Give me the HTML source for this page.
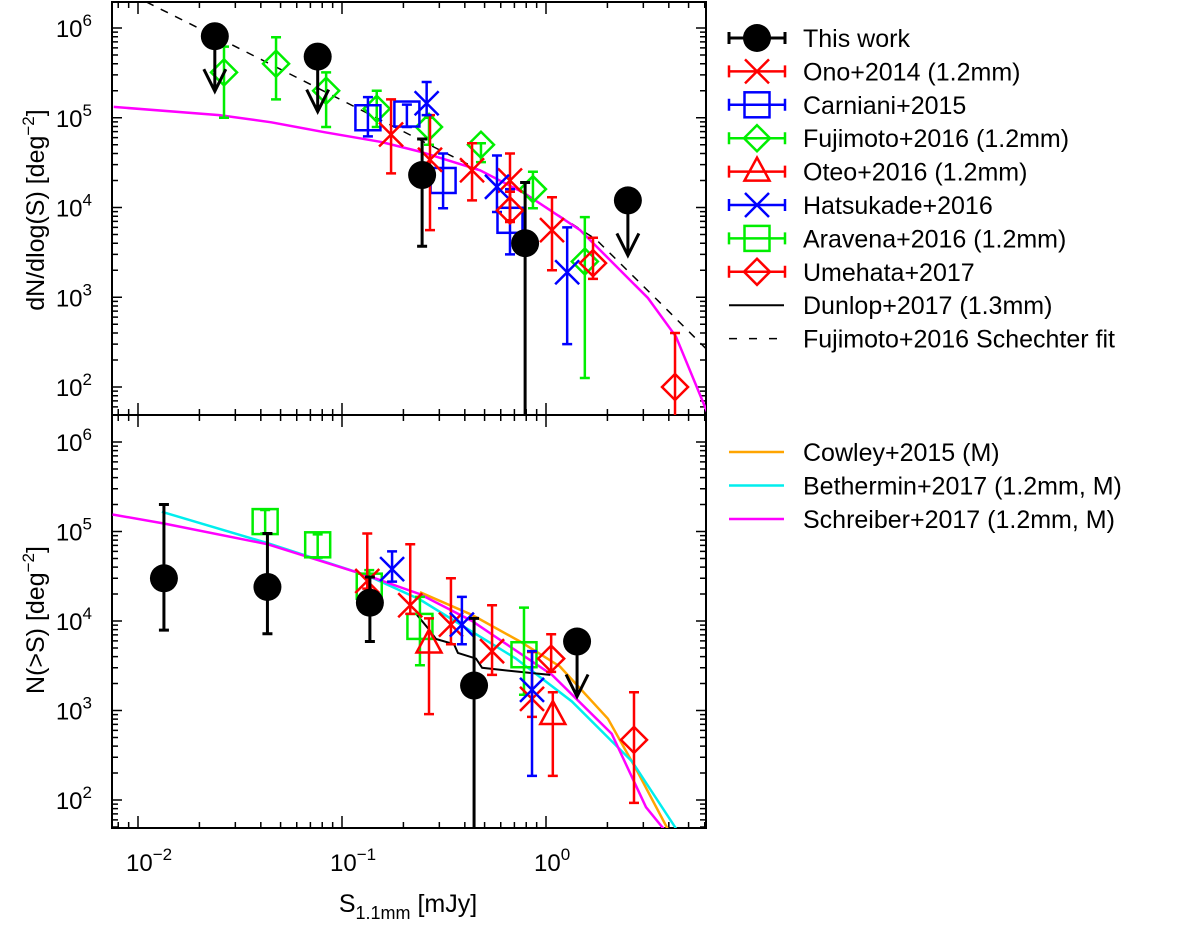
<!DOCTYPE html>
<html><head><meta charset="utf-8">
<style>
html,body{margin:0;padding:0;background:#fff;width:1200px;height:927px;overflow:hidden;}
svg{display:block;font-family:"Liberation Sans",Arial,sans-serif;}
</style></head>
<body>
<svg id="chart" width="1200" height="927" viewBox="0 0 1200 927" xmlns="http://www.w3.org/2000/svg"></svg>
<script>
// ---------- DATA ----------
const thisWorkTopS   = [0.0238, 0.076, 0.247, 0.79, 2.52];
const thisWorkTopY   = [8.1e5, 4.8e5, 2.3e4, 4.0e3, 1.2e4];
const thisWorkTopHi  = [null, null, 5.8e4, 1.9e4, null];
const thisWorkTopLo  = [null, null, 3.7e3, 30, null];
const thisWorkTopLim = [true, true, false, false, true];

const onoTopS  = [0.174, 0.27, 0.434, 0.666, 1.07];
const onoTopY  = [6.5e4, 3.4e4, 2.6e4, 2.0e4, 5.6e3];
const onoTopHi = [1.6e5, 1.07e5, 5.2e4, 4.0e4, 1.3e4];
const onoTopLo = [2.4e4, 5.6e3, 1.2e4, 7.2e3, 2.0e3];

const carnTopS  = [0.134, 0.208, 0.313, 0.666];
const carnTopY  = [1.0e5, 1.1e5, 2.0e4, 7.2e3];
const carnTopHi = [1.7e5, 1.4e5, 4.0e4, 1.6e4];
const carnTopLo = [6.2e4, 7.9e4, 9.8e3, 3.0e3];

const fujiTopS  = [0.0264, 0.0475, 0.0836, 0.148, 0.267, 0.48, 0.863, 1.55];
const fujiTopY  = [3.2e5, 4.0e5, 2.0e5, 1.26e5, 7.9e4, 5.0e4, 1.6e4, 2.5e3];
const fujiTopHi = [6.2e5, 7.9e5, 3.2e5, 2.0e5, 1.0e5, 5.2e4, 2.5e4, 7.8e3];
const fujiTopLo = [1.0e5, 1.6e5, 7.9e4, 7.9e4, 5.0e4, 3.2e4, 9.8e3, 126];

const umeTopS  = [0.666, 1.70, 4.29];
const umeTopY  = [9.3e3, 2.4e3, 100];
const umeTopHi = [1.5e4, 4.6e3, 400];
const umeTopLo = [6.9e3, 1.6e3, 30];

const hatsTopS  = [0.26, 0.575, 1.27];
const hatsTopY  = [1.45e5, 1.7e4, 1.9e3];
const hatsTopHi = [2.5e5, 3.8e4, 6.0e3];
const hatsTopLo = [1.07e5, 8.9e3, 300];

const schechterS = [0.011, 0.0289, 0.098, 0.30, 0.746, 1.76, 3.62, 6.5];
const schechterY = [1.95e6, 6.5e5, 1.6e5, 4.4e4, 1.55e4, 4.4e3, 870, 230];

const schreiTopS = [0.0076, 0.025, 0.045, 0.082, 0.154, 0.241, 0.475, 0.78, 1.47, 3.16, 4.34, 6.2];
const schreiTopY = [1.32e5, 1.07e5, 8.9e4, 6.9e4, 5.4e4, 4.2e4, 2.6e4, 1.45e4, 5.6e3, 980, 363, 51];

const thisWorkBotS   = [0.0134, 0.0431, 0.137, 0.444, 1.42];
const thisWorkBotY   = [3.0e4, 2.4e4, 1.6e4, 1.9e3, 5.9e3];
const thisWorkBotHi  = [2.0e5, 9.5e4, 3.1e4, 1.07e4, null];
const thisWorkBotLo  = [7.9e3, 7.2e3, 5.9e3, 30, null];
const thisWorkBotLim = [false, false, false, false, true];

const aravS  = [0.042, 0.076, 0.136, 0.241, 0.78];
const aravY  = [1.29e5, 7.1e4, 2.45e4, 8.7e3, 4.2e3];
const aravHi = [1.74e5, 9.3e4, 3.7e4, 1.86e4, 1.41e4];
const aravLo = [9.5e4, 5.1e4, 1.78e4, 3.2e3, 1.5e3];

const onoBotS  = [0.133, 0.216, 0.342, 0.544, 0.854];
const onoBotY  = [2.8e4, 1.5e4, 9.1e3, 4.6e3, 1.35e3];
const onoBotHi = [9.5e4, 7.2e4, 3.0e4, 1.5e4, 4.5e3];
const onoBotLo = [2.3e4, 1.2e4, 5.5e3, 2.5e3, 850];

const oteoS  = [0.267, 1.08];
const oteoY  = [5.6e3, 890];
const oteoHi = [1.07e4, 1.6e3];
const oteoLo = [910, 186];

const hatsBotS  = [0.176, 0.387, 0.854];
const hatsBotY  = [3.8e4, 9.1e3, 1.7e3];
const hatsBotHi = [6.0e4, 1.86e4, 4.6e3];
const hatsBotLo = [2.75e4, 5.5e3, 186];

const umeBotS  = [1.06, 2.70];
const umeBotY  = [3.8e3, 470];
const umeBotHi = [7.1e3, 1.6e3];
const umeBotLo = [2.7e3, 93];

const dunlopS = [0.233, 0.264, 0.289, 0.354, 0.37, 0.454, 0.486, 0.746, 1.05];
const dunlopY = [1.17e4, 8.3e3, 6.3e3, 5.5e3, 4.4e3, 3.8e3, 3.0e3, 2.7e3, 2.5e3];

const schreiBotS = [0.0075, 0.0134, 0.0433, 0.134, 0.241, 0.434, 1.07, 2.10, 3.09, 3.79];
const schreiBotY = [1.55e5, 1.23e5, 7.2e4, 3.2e4, 2.0e4, 1.0e4, 2.5e3, 550, 83, 47];

const bethS = [0.0131, 0.0433, 0.134, 0.241, 0.434, 0.713, 1.34, 2.64, 4.34];
const bethY = [1.66e5, 7.4e4, 3.2e4, 1.74e4, 7.6e3, 3.8e3, 1.26e3, 270, 48];

const cowleyS = [0.241, 0.434, 0.746, 1.17, 2.01, 2.76, 3.96];
const cowleyY = [2.1e4, 1.17e4, 5.9e3, 3.1e3, 810, 224, 47];

const topYTicks = [2, 3, 4, 5, 6];
const botYTicks = [2, 3, 4, 5, 6];
const xTicks = [-2, -1, 0];

// ---------- LAYOUT ----------
const X0 = 112, X1 = 706;
const TOP0 = 2, TOP1 = 415, BOT0 = 415, BOT1 = 828;
const svg = document.getElementById('chart');
const NS = 'http://www.w3.org/2000/svg';
function xs(s){ return 546 + 204*Math.log10(s); }
function ysTop(v){ return 28 + 89.75*(6 - Math.log10(v)); }
function ysBot(v){ return 442 + 89.5*(6 - Math.log10(v)); }
function mk(tag, attrs, parent){
  const e = document.createElementNS(NS, tag);
  for (const k in attrs) e.setAttribute(k, attrs[k]);
  (parent||svg).appendChild(e);
  return e;
}
function clipFor(id, y0, y1){
  const cp = mk('clipPath', {id:id});
  mk('rect', {x:X0, y:y0, width:X1-X0, height:y1-y0}, cp);
}
clipFor('cTop', TOP0, TOP1); clipFor('cBot', BOT0, BOT1);

function groupEl(name, clip){
  const g = mk('g', {'clip-path':'url(#'+clip+')'});
  
  
  return g;
}

function drawMarker(g, type, cx, cy, color){
  const sw = 2.5;
  if (type==='circle'){ mk('circle',{cx:cx,cy:cy,r:14,fill:'#000'},g); }
  else if (type==='x'){
    const d=12;
    mk('path',{d:`M${cx-d} ${cy-d}L${cx+d} ${cy+d}M${cx-d} ${cy+d}L${cx+d} ${cy-d}`,stroke:color,'stroke-width':sw,fill:'none'},g);
  } else if (type==='square'){
    mk('rect',{x:cx-12.5,y:cy-12.5,width:25,height:25,stroke:color,'stroke-width':sw,fill:'none'},g);
  } else if (type==='diamond'){
    const d=13;
    mk('path',{d:`M${cx} ${cy-d}L${cx+d} ${cy}L${cx} ${cy+d}L${cx-d} ${cy}Z`,stroke:color,'stroke-width':sw,fill:'none'},g);
  } else if (type==='tri'){
    mk('path',{d:`M${cx} ${cy-14}L${cx+12.5} ${cy+9}L${cx-12.5} ${cy+9}Z`,stroke:color,'stroke-width':sw,fill:'none'},g);
  }
}

function drawSeries(name, clip, yf, S, Y, Hi, Lo, type, color, lim){
  const g = groupEl(name, clip);
  const w = (type==='circle') ? 3 : 2.5;
  for (let i=0;i<S.length;i++){
    const cx = xs(S[i]), cy = yf(Y[i]);
    const pt = mk('g', {}, g);
    
    
    if (lim && lim[i]){
      const ay = cy + 55;
      mk('path',{d:`M${cx} ${cy}L${cx} ${ay}M${cx-11} ${ay-22}L${cx} ${ay}L${cx+11} ${ay-22}`,stroke:'#000','stroke-width':3,fill:'none'},pt);
    } else if (Hi && Hi[i]!=null){
      const y1 = yf(Hi[i]), y2 = yf(Lo[i]);
      mk('path',{d:`M${cx} ${y1}L${cx} ${y2}M${cx-5} ${y1}L${cx+5} ${y1}M${cx-5} ${y2}L${cx+5} ${y2}`,stroke:color,'stroke-width':w,fill:'none'},pt);
    }
    drawMarker(pt, type, cx, cy, color);
  }
}
function drawLine(name, clip, yf, S, Y, color, w, dash){
  const g = groupEl(name, clip);
  const d = S.map((s,i)=>(i?'L':'M')+xs(s).toFixed(1)+' '+yf(Y[i]).toFixed(1)).join('');
  const a = {d:d,stroke:color,'stroke-width':w,fill:'none'};
  if (dash) a['stroke-dasharray']=dash;
  mk('path', a, g);
}

// ---------- AXES ----------
function axesFrame(name, y0, y1, yMap, decs){
  const g = mk('g', {});
  
  
  mk('rect',{x:X0,y:y0,width:X1-X0,height:y1-y0,fill:'none',stroke:'#000','stroke-width':2},g);
  let d='';
  for (let e=0;e<=7;e++){
    for (let m=1;m<=9;m++){
      const v = m*Math.pow(10,e);
      const y = yMap(v);
      if (y<y0+1||y>y1-1) continue;
      const L = m===1?10:6;
      d += `M${X0} ${y}L${X0+L} ${y}M${X1} ${y}L${X1-L} ${y}`;
    }
  }
  for (let e=-3;e<=1;e++){
    for (let m=1;m<=9;m++){
      const x = xs(m*Math.pow(10,e));
      if (x<X0+1||x>X1-1) continue;
      const L = m===1?12:6;
      d += `M${x} ${y0}L${x} ${y0+L}M${x} ${y1}L${x} ${y1-L}`;
    }
  }
  mk('path',{d:d,stroke:'#000','stroke-width':1.5,fill:'none'},g);
  decs.forEach(p=>{
    const t = mk('text',{x:92,y:yMap(Math.pow(10,p))+9,'font-size':24,'text-anchor':'end',fill:'#000'},g);
    
    
    t.appendChild(document.createTextNode('10'));
    const sp = mk('tspan',{dy:-11,'font-size':17},t); sp.textContent = String(p);
  });
}
axesFrame('top-panel-axes', TOP0, TOP1, ysTop, topYTicks);
axesFrame('bottom-panel-axes', BOT0, BOT1, ysBot, botYTicks);

xTicks.forEach(p=>{
  const x = xs(Math.pow(10,p));
  const t = mk('text',{x:x-12,y:871,'font-size':24,fill:'#000'});
  
  
  t.appendChild(document.createTextNode('10'));
  const sp = mk('tspan',{dy:-11,'font-size':17},t); sp.textContent = p===0?'0':('\u2212'+(-p));
});

(function(){
  const t = mk('text',{x:408,y:912,'font-size':25,'text-anchor':'middle',fill:'#000'});
   
  t.appendChild(document.createTextNode('S'));
  const s1 = mk('tspan',{dy:7,'font-size':18},t); s1.textContent='1.1mm';
  const s2 = mk('tspan',{dy:-7},t); s2.textContent=' [mJy]';

  const a = mk('text',{x:0,y:0,'font-size':25,'text-anchor':'middle',fill:'#000',transform:'translate(44,210) rotate(-90)'});
   
  a.appendChild(document.createTextNode('dN/dlog(S) [deg'));
  const a1 = mk('tspan',{dy:-10,'font-size':17},a); a1.textContent='\u22122';
  const a2 = mk('tspan',{dy:10},a); a2.textContent=']';

  const b = mk('text',{x:0,y:0,'font-size':25,'text-anchor':'middle',fill:'#000',transform:'translate(44,620) rotate(-90)'});
   
  b.appendChild(document.createTextNode('N(>S) [deg'));
  const b1 = mk('tspan',{dy:-10,'font-size':17},b); b1.textContent='\u22122';
  const b2 = mk('tspan',{dy:10},b); b2.textContent=']';
})();

// ---------- SERIES ----------
drawLine('schechter-fit-line','cTop',ysTop,schechterS,schechterY,'#000',1.5,'8,8');
drawLine('schreiber-top-line','cTop',ysTop,schreiTopS,schreiTopY,'#ff00ff',2.5);
drawSeries('fujimoto-top','cTop',ysTop,fujiTopS,fujiTopY,fujiTopHi,fujiTopLo,'diamond','#00ee00');
drawSeries('carniani-top','cTop',ysTop,carnTopS,carnTopY,carnTopHi,carnTopLo,'square','#0000ff');
drawSeries('ono-top','cTop',ysTop,onoTopS,onoTopY,onoTopHi,onoTopLo,'x','#ff0000');
drawSeries('hatsukade-top','cTop',ysTop,hatsTopS,hatsTopY,hatsTopHi,hatsTopLo,'x','#0000ff');
drawSeries('umehata-top','cTop',ysTop,umeTopS,umeTopY,umeTopHi,umeTopLo,'diamond','#ff0000');
drawSeries('this-work-top','cTop',ysTop,thisWorkTopS,thisWorkTopY,thisWorkTopHi,thisWorkTopLo,'circle','#000',thisWorkTopLim);

drawLine('cowley-line','cBot',ysBot,cowleyS,cowleyY,'#ffa500',2.5);
drawLine('bethermin-line','cBot',ysBot,bethS,bethY,'#00eeee',2.5);
drawLine('schreiber-bottom-line','cBot',ysBot,schreiBotS,schreiBotY,'#ff00ff',2.5);
drawLine('dunlop-line','cBot',ysBot,dunlopS,dunlopY,'#000',2);
drawSeries('aravena-bottom','cBot',ysBot,aravS,aravY,aravHi,aravLo,'square','#00ee00');
drawSeries('ono-bottom','cBot',ysBot,onoBotS,onoBotY,onoBotHi,onoBotLo,'x','#ff0000');
drawSeries('oteo-bottom','cBot',ysBot,oteoS,oteoY,oteoHi,oteoLo,'tri','#ff0000');
drawSeries('hatsukade-bottom','cBot',ysBot,hatsBotS,hatsBotY,hatsBotHi,hatsBotLo,'x','#0000ff');
drawSeries('umehata-bottom','cBot',ysBot,umeBotS,umeBotY,umeBotHi,umeBotLo,'diamond','#ff0000');
drawSeries('this-work-bottom','cBot',ysBot,thisWorkBotS,thisWorkBotY,thisWorkBotHi,thisWorkBotLo,'circle','#000',thisWorkBotLim);

// ---------- LEGENDS ----------
const legTop = [
  ['This work','circle','#000'],['Ono+2014 (1.2mm)','x','#ff0000'],['Carniani+2015','square','#0000ff'],
  ['Fujimoto+2016 (1.2mm)','diamond','#00ee00'],['Oteo+2016 (1.2mm)','tri','#ff0000'],['Hatsukade+2016','x','#0000ff'],
  ['Aravena+2016 (1.2mm)','square','#00ee00'],['Umehata+2017','diamond','#ff0000'],
  ['Dunlop+2017 (1.3mm)','line','#000'],['Fujimoto+2016 Schechter fit','dash','#000']
];
const legBot = [['Cowley+2015 (M)','#ffa500'],['Bethermin+2017 (1.2mm, M)','#00eeee'],['Schreiber+2017 (1.2mm, M)','#ff00ff']];
legTop.forEach((e,i)=>{
  const y = 38 + 33.4*i;
  const g = mk('g',{});
  
  
  if (e[1]==='line') mk('path',{d:`M729 ${y}L784 ${y}`,stroke:'#000','stroke-width':2},g);
  else if (e[1]==='dash') mk('path',{d:`M729 ${y}L784 ${y}`,stroke:'#000','stroke-width':1.5,'stroke-dasharray':'8,12'},g);
  else {
    const w = e[1]==='circle'?3:2.5;
    mk('path',{d:`M729 ${y}L785 ${y}M729 ${y-6}L729 ${y+6}M785 ${y-6}L785 ${y+6}`,stroke:e[2],'stroke-width':w,fill:'none'},g);
    drawMarker(g,e[1],757,y,e[2]);
  }
  const t = mk('text',{x:803,y:y+9,'font-size':25,fill:'#000'},g); t.textContent = e[0];
});
legBot.forEach((e,i)=>{
  const y = 452 + 33.5*i;
  const g = mk('g',{});
  
  
  mk('path',{d:`M729 ${y}L784 ${y}`,stroke:e[1],'stroke-width':2.5},g);
  const t = mk('text',{x:803,y:y+9,'font-size':25,fill:'#000'},g); t.textContent = e[0];
});
</script>
</body></html>
